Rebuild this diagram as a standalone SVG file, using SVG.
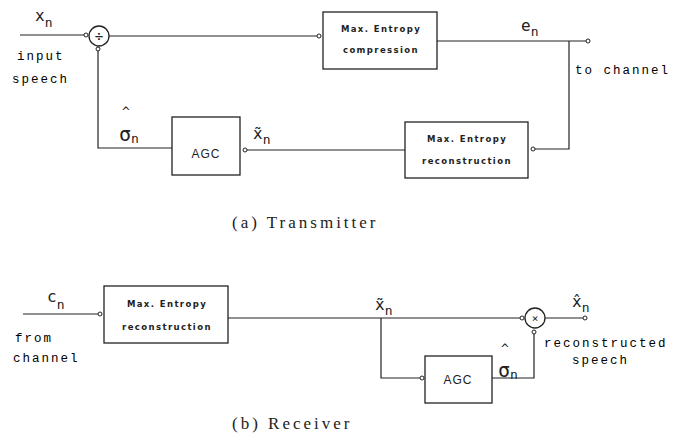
<svg xmlns="http://www.w3.org/2000/svg" width="683" height="438" viewBox="0 0 683 438">
<style>
.box{fill:#fff;stroke:#222;stroke-width:1.3}
.ln{fill:none;stroke:#222;stroke-width:1.2}
.lbl{font-family:"DejaVu Sans Mono","Liberation Mono",monospace;fill:#222}
.big{font-size:16px}
.sub{font-size:13px}
.hat{font-size:13px}
.sig{font-size:20px}
.side{font-family:"Liberation Mono","DejaVu Sans Mono",monospace;font-size:12.5px;letter-spacing:2px}
.bt{font-family:"DejaVu Sans","Liberation Sans",sans-serif;font-size:8.5px;font-weight:bold;fill:#222;letter-spacing:1.4px}
.agc{font-family:"Liberation Sans",sans-serif;font-size:12px;fill:#222;letter-spacing:1px}
.cap{font-family:"Liberation Serif","DejaVu Serif",serif;font-size:17px;fill:#222;letter-spacing:3px}
</style>
<defs>
<marker id="o" viewBox="-3 -3 6 6" refX="2" refY="0" markerWidth="6" markerHeight="6" markerUnits="userSpaceOnUse" orient="auto">
<circle cx="0" cy="0" r="2" fill="#fff" stroke="#222" stroke-width="1"/>
</marker>
</defs>
<rect width="683" height="438" fill="#fff"/>

<g id="connectors">
<!-- transmitter -->
<line class="ln" x1="20" y1="35" x2="88" y2="35" marker-end="url(#o)"/>
<line class="ln" x1="109" y1="36" x2="321" y2="36" marker-end="url(#o)"/>
<line class="ln" x1="437" y1="41" x2="590" y2="41" marker-end="url(#o)"/>
<polyline class="ln" points="569,41 569,149 531,149" marker-end="url(#o)"/>
<line class="ln" x1="405" y1="150" x2="243" y2="150" marker-end="url(#o)"/>
<polyline class="ln" points="172,148 98,148 98,47" marker-end="url(#o)"/>
<!-- receiver -->
<line class="ln" x1="23" y1="314" x2="102" y2="314" marker-end="url(#o)"/>
<line class="ln" x1="228" y1="318" x2="524" y2="318" marker-end="url(#o)"/>
<line class="ln" x1="545" y1="318" x2="587" y2="318" marker-end="url(#o)"/>
<polyline class="ln" points="381,318 381,378 424,378" marker-end="url(#o)"/>
<polyline class="ln" points="492,378 534,378 534,330" marker-end="url(#o)"/>
</g>

<g id="divider">
<circle class="box" cx="99" cy="36" r="10"/>
<text class="lbl" x="99" y="41" font-size="14" text-anchor="middle">÷</text>
</g>
<g id="compression">
<rect class="box" x="323" y="12" width="114" height="57"/>
<text class="bt" x="381" y="32" text-anchor="middle">Max. Entropy</text>
<text class="bt" x="381" y="53" text-anchor="middle">compression</text>
</g>
<g id="tx-reconstruction">
<rect class="box" x="405" y="122" width="123" height="56"/>
<text class="bt" x="467" y="142" text-anchor="middle">Max. Entropy</text>
<text class="bt" x="467" y="164" text-anchor="middle">reconstruction</text>
</g>
<g id="tx-agc">
<rect class="box" x="172" y="117" width="68" height="58"/>
<text class="agc" x="206" y="158" text-anchor="middle">AGC</text>
</g>

<g id="rx-reconstruction">
<rect class="box" x="104" y="286" width="124" height="57"/>
<text class="bt" x="167" y="307" text-anchor="middle">Max. Entropy</text>
<text class="bt" x="167" y="330" text-anchor="middle">reconstruction</text>
</g>
<g id="multiplier">
<circle class="box" cx="535" cy="318" r="10"/>
<text class="lbl" x="535" y="322" font-size="11" text-anchor="middle">×</text>
</g>
<g id="rx-agc">
<rect class="box" x="425" y="356" width="67" height="47"/>
<text class="agc" x="458" y="384" text-anchor="middle">AGC</text>
</g>

<g id="labels">
<text class="lbl big" x="35" y="21">x<tspan class="sub" dy="6">n</tspan></text>
<text class="side" x="17" y="60">input</text>
<text class="side" x="12" y="83">speech</text>
<text class="lbl hat" x="122" y="116">^</text>
<text class="lbl sig" x="119" y="141">σ<tspan class="sub" dy="2">n</tspan></text>
<text class="lbl big" x="253" y="139">x̃<tspan class="sub" dy="5">n</tspan></text>
<text class="lbl big" x="521" y="31">e<tspan class="sub" dy="5">n</tspan></text>
<text class="side" x="575" y="74">to channel</text>
<text class="cap" x="232" y="228">(a) Transmitter</text>

<text class="lbl big" x="47" y="302">c<tspan class="sub" dy="7">n</tspan></text>
<text class="side" x="15" y="342">from</text>
<text class="side" x="13" y="362">channel</text>
<text class="lbl big" x="375" y="310">x̃<tspan class="sub" dy="5">n</tspan></text>
<text class="lbl big" x="572" y="307">x̂<tspan class="sub" dy="5">n</tspan></text>
<text class="lbl hat" x="501" y="353">^</text>
<text class="lbl sig" x="498" y="377">σ<tspan class="sub" dy="2">n</tspan></text>
<text class="side" x="544" y="347">reconstructed</text>
<text class="side" x="572" y="364">speech</text>
<text class="cap" x="232" y="429">(b) Receiver</text>
</g>
</svg>
